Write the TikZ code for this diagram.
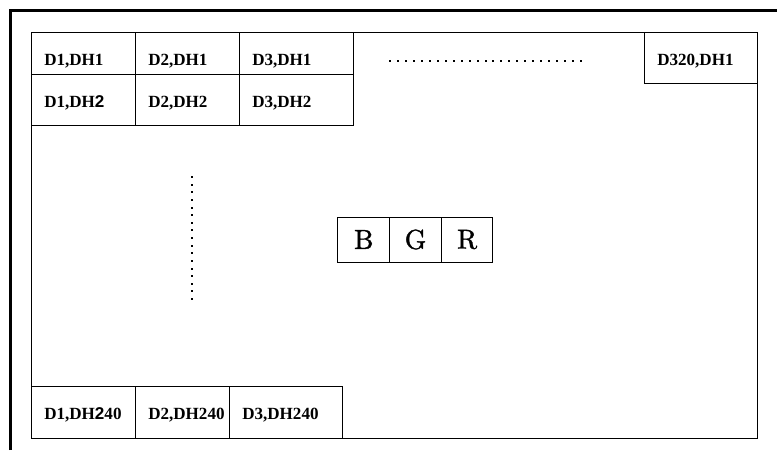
\documentclass[tikz,border=0pt]{standalone}
\usepackage{fontspec}
\newfontfamily\lblfont{Liberation Serif}
\newfontfamily\numfont{Liberation Sans}
\newfontfamily\bgrfont[FakeBold=1.3]{lmroman10-regular.otf}
\usetikzlibrary{positioning}

\begin{document}
\begin{tikzpicture}[
  x=0.75pt,y=-0.75pt,
  cell/.style 2 args={draw,line width=0.75pt,anchor=north west,inner sep=0pt,outer sep=0pt,
              minimum width=#1*0.75pt,minimum height=#2*0.75pt},
  lbl/.style={anchor=base west,inner sep=0pt,font=\lblfont\bfseries\fontsize{12.8}{15}\selectfont},
  chan/.style={draw,line width=0.75pt,inner sep=0pt,outer sep=0pt,minimum width=38.75pt,
              minimum height=33.75pt,font=\bgrfont\fontsize{20.5}{24}\selectfont}
]
\useasboundingbox (0,0) rectangle (777,450);
% outer border, only top and left show
\draw[line width=2.25pt] (10.5,450) -- (10.5,10.5) -- (777,10.5);
% screen
\node[cell={726}{406}] (screen) at (31,32) {};
% pixel cells
\foreach \n/\x/\y/\w/\h/\t in {
  d1h1/31/32/104/42/{D1,DH1},
  d2h1/135/32/104/42/{D2,DH1},
  d3h1/239/32/114/42/{D3,DH1},
  d1h2/31/74/104/51/{D1,DH{\numfont 2}},
  d2h2/135/74/104/51/{D2,DH2},
  d3h2/239/74/114/51/{D3,DH2},
  d320h1/644/32/113/51/{D320,DH1},
  d1h240/31/386/104/52/{D1,DH{\numfont 2}40},
  d2h240/135/386/94/52/{D2,DH240},
  d3h240/229/386/113/52/{D3,DH240}}
{
  \node[cell={\w}{\h}] (\n) at (\x,\y) {};
  \node[lbl] (\n-txt) at ([xshift=9.75pt,yshift=-24.75pt]\n.north west) {\t};
}
% one pixel = B G R
\node[chan] (b) at (363.8,239.5) {B};
\node[chan,right=0pt of b] (g) {G};
\node[chan,right=0pt of g] (r) {R};
% dots
\foreach \i in {0,...,24}
  \fill (390+\i*7.96,60.5) +(-1,-1) rectangle +(1,1);
\foreach \i in {0,...,16}
  \fill (192,177+\i*7.625) +(-1,-1) rectangle +(1,1);
\end{tikzpicture}
\end{document}
